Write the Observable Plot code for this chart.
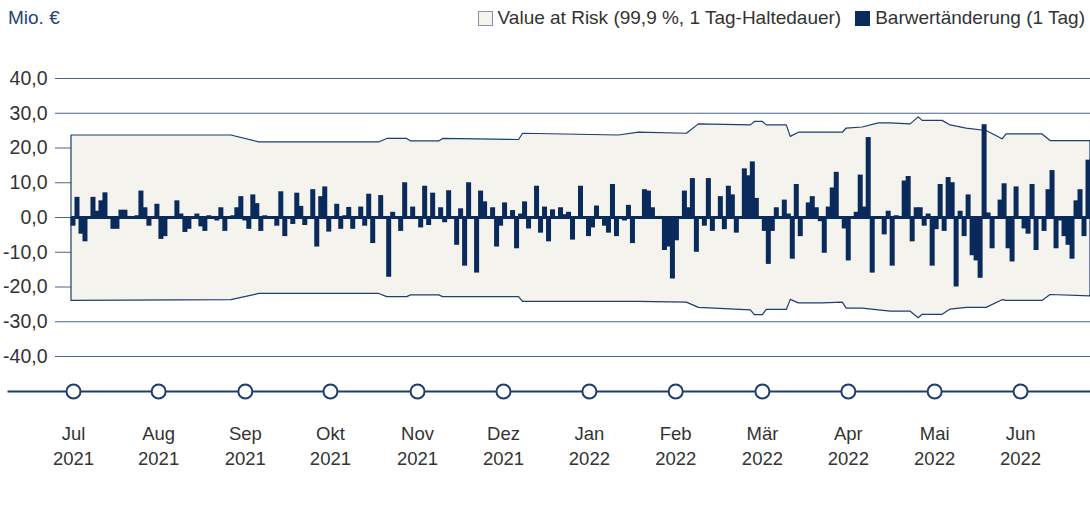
<!DOCTYPE html>
<html><head><meta charset="utf-8">
<script src="https://cdn.jsdelivr.net/npm/d3@7"></script>
<script src="https://cdn.jsdelivr.net/npm/@observablehq/plot@0.6"></script>
<style>
body{margin:0;background:#fff;font-family:"Liberation Sans",Arial,sans-serif;}
#wrap{position:relative;width:1090px;height:506px;}
#unit{position:absolute;left:8px;top:7px;font-size:19px;color:#24457c;}
#legend{position:absolute;right:5px;top:7px;display:flex;align-items:center;font-size:19px;color:#333;white-space:nowrap;}
.sw{display:inline-block;width:15px;height:15px;box-sizing:border-box;margin-right:5px;}
</style></head><body>
<div id="wrap">
<div id="unit">Mio. €</div>
<div id="legend"><span class="sw" style="background:#f4f3ee;border:1px solid #8493ad"></span><span>Value at Risk (99,9 %, 1 Tag-Haltedauer)</span><span class="sw" style="background:#0a2a5c;margin-left:14px"></span><span>Barwertänderung (1 Tag)</span></div>
</div>
<script>
// daily present value change (Mio. €), in order
const part1 = [-2.5, 5.8, -4.8, -7.0, -0.5, 5.8, 1.8, 4.8, 7.1, -0.5, -3.4, -3.4, 2.1, 2.1, 0.3, 0, 0.5, 7.6, 2.8, -2.5, 0.3, 3.8, -6.3, -5.5, -0.3, 0.3, 4.8, 1.0, -4.3, -3.4, -0.5, 1.0, -2.7, -4.0];
const part2 = [0.5, 0.3, -1.0, 2.8, -4.0, 0, 0.5, 2.8, 6.0, -1.0, -3.4, 6.5, 4.0, -4.0, 0.5, -0.5, 0, -2.5, 7.4, -5.5, -0.5, -2.0, 7.0, 3.2, -2.3, -0.5, 8.0, -8.5, 6.0, 8.8, -4.2, 0, 3.8, -3.4, 0.5, 2.9, -3.4];
const part3 = [0, 3.0, -2.5, 6.7, -7.5, 0, 6.3, 0.3, -17.2, 1.5, 0, -4.0, 10.0, -0.5, 3.0, -0.3, -3.0, 9.0, -2.3, 7.0, 0, 2.8, -1.5, 7.7, -0.2, -8.0, 2.5, -14.0, 10.0, 0.2, -16.0, 7.6, 4.5, 0.3];
const part4 = [2.8, -8.5, -2.5, 4.2, -0.5, 2.0, -9.0, 1.0, 4.5, -3.3, -0.5, 9.0, -4.5, 3.0, -7.0, 2.2, -0.5, 2.8, 0.8, 1.5, -6.5, -0.2, 9.0, -0.3, -5.5, -3.0, 3.3, -0.3, -2.5, -4.5, 9.5, -5.5, -0.5, -1.0, 3.5, -7.5, 0.2, 0, 8.0];
const part5 = [7.6, 2.8, -0.5, 0.3, -9.5, -8.5, -17.7, -6.7, 0, 7.6, 2.8, 11.2, -10.0, -0.3, -2.5, 11.2, -4.0, 0, 6.0, -3.5, 9.0, 6.5, -4.5, 0, 14.0, 12.0, 16.0, 5.5, 0, -4.0, -13.5, -4.0, 2.8, 0, 5.0, 1.0, -12.0];
const part6 = [9.5, -5.5, 0, 4.2, 6.0, 2.8, -1.2, -10.3, 3.0, 8.5, 13.0, 0, -3.3, -12.5, 0, 1.5, 12.2, 3.0, 23.0, -16.0, 0, 0, -5.0, 1.8, -14.0, 0.5, 0, 10.5, 11.8, -7.0, 2.8, 2.8, -2.5, 1.0, -14.0, -3.5, 9.5, -4.0, 11.5, 10.0, -20.0, 1.8, -5.5, 6.5, -11.0, -12.5, -17.5, 26.7, 1.3, -9.0, 0, 5.0, 9.7, -9.0, -12.8, 8.8, 0, -3.3, -4.8, 9.5, -9.5, 0, -4.0, 8.0, 13.5, -9.0, -1.0, -5.5, -8.0, -12.0, 4.8, 8.0, -5.5, 16.5];

// Value at Risk envelope (trading-day index, upper, lower)
const varDay = [0, 40, 47, 77, 79, 84, 85, 92, 93, 112, 113, 137, 142, 154, 157, 170, 171, 173, 174, 179, 180, 182, 188, 193, 194, 198, 202, 205, 210, 212, 213, 218, 220, 224, 229, 233, 234, 243, 245, 255];
const varUp = [23.6, 23.6, 21.6, 21.6, 22.6, 22.6, 21.9, 21.9, 22.6, 22.3, 24.1, 23.6, 24.4, 24.1, 26.8, 26.5, 27.5, 27.5, 26.5, 26.5, 23.2, 24.4, 24.4, 24.4, 25.6, 25.9, 27.1, 27.1, 26.8, 28.8, 27.8, 27.8, 26.5, 25.6, 24.9, 22.5, 23.9, 23.9, 22.0, 22.0];
const varLow = [-24.0, -23.8, -22.0, -22.0, -22.9, -22.9, -22.4, -22.4, -22.9, -22.9, -24.3, -24.3, -24.3, -24.5, -26.0, -26.7, -28.1, -28.1, -26.6, -26.6, -23.7, -24.7, -24.7, -24.5, -26.2, -26.2, -26.7, -27.1, -27.1, -29.0, -28.0, -28.0, -26.5, -26.0, -26.0, -23.8, -24.0, -24.0, -22.3, -22.7];

// month markers (trading-day index of month start) and labels
const monthPos = [0.5, 21.8, 43.5, 64.8, 86.6, 108.1, 129.6, 151.2, 172.9, 194.4, 216.0, 237.5];
const monthNames = ["Jul", "Aug", "Sep", "Okt", "Nov", "Dez", "Jan", "Feb", "Mär", "Apr", "Mai", "Jun"];
const monthYears = ["2021", "2021", "2021", "2021", "2021", "2021", "2022", "2022", "2022", "2022", "2022", "2022"];
const yTicks = [-40, -30, -20, -10, 0, 10, 20, 30, 40];

const changes = [...part1, ...part2, ...part3, ...part4, ...part5, ...part6];
const navy = "#0a2a5c";
const lineNavy = "#1f3d6e";
const font = "'Liberation Sans', Arial, sans-serif";

const chart = Plot.plot({
  width: 1090, height: 506,
  marginLeft: 55, marginRight: 0, marginTop: 0, marginBottom: 115,
  x: {domain: [0, changes.length], range: [71, 1090], axis: null},
  y: {domain: [-40, 40], range: [356, 78], axis: null},
  style: {fontFamily: font, fontSize: "18px", color: "#333", background: "transparent", overflow: "visible"},
  marks: [
    Plot.gridY(yTicks, {stroke: "#4a6391", strokeOpacity: 1, strokeWidth: 1.1}),
    Plot.axisY(yTicks, {tickSize: 0, tickPadding: 8, tickFormat: d => d.toFixed(1).replace(".", ","), fontSize: 19.5, fill: "#333", label: null}),
    Plot.areaY(varDay.map((d, i) => i), {x: i => varDay[i], y1: i => varLow[i], y2: i => varUp[i], fill: "#f4f3ee", stroke: lineNavy, strokeWidth: 1.2}),
    Plot.rectY(changes, {x1: (d, i) => i, x2: (d, i) => i + 1, y1: 0, y2: d => d, fill: navy, insetLeft: -0.5, insetRight: -0.5}),
    Plot.ruleY([0], {x1: 0, x2: changes.length, stroke: navy, strokeWidth: 3}),
    Plot.frame({anchor: "bottom", insetLeft: -47, stroke: lineNavy, strokeWidth: 2}),
    Plot.dot(monthPos, {x: d => d, frameAnchor: "bottom", r: 7, fill: "white", stroke: lineNavy, strokeWidth: 2}),
    Plot.text(monthPos, {x: d => d, frameAnchor: "bottom", text: (d, i) => monthNames[i], dy: 48, fontSize: 18.5, fill: "#333"}),
    Plot.text(monthPos, {x: d => d, frameAnchor: "bottom", text: (d, i) => monthYears[i], dy: 73, fontSize: 18.5, fill: "#333"})
  ]
});
chart.style.position = "absolute";
chart.style.left = "0";
chart.style.top = "0";
document.getElementById("wrap").prepend(chart);
</script>
</body></html>
